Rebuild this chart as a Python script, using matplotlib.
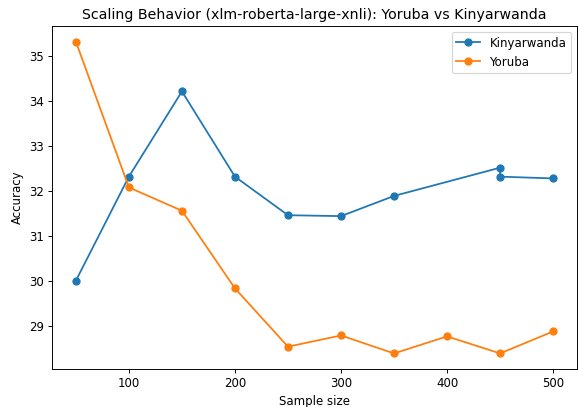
import numpy as np
import matplotlib.pyplot as plt

kin_x = [50, 100, 150, 200, 250, 300, 350, 450, 450, 500]
kin_y = [30.0, 32.32, 34.22, 32.32, 31.46, 31.44, 31.89, 32.52, 32.32, 32.28]

yor_x = [50, 100, 150, 200, 250, 300, 350, 400, 450, 500]
yor_y = [35.33, 32.08, 31.56, 29.83, 28.53, 28.78, 28.38, 28.76, 28.38, 28.87]

fig = plt.figure(figsize=(578 / 85, 407 / 85), dpi=85)
ax = fig.add_axes([52 / 578, 1 - 369 / 407, 525 / 578, 343 / 407])
ax.plot(kin_x, kin_y, marker="o", label="Kinyarwanda")
ax.plot(yor_x, yor_y, marker="o", label="Yoruba")
ax.set_xlabel("Sample size")
ax.set_ylabel("Accuracy")
ax.set_title("Scaling Behavior (xlm-roberta-large-xnli): Yoruba vs Kinyarwanda")
ax.legend()
fig.savefig("out.png", dpi=85)
